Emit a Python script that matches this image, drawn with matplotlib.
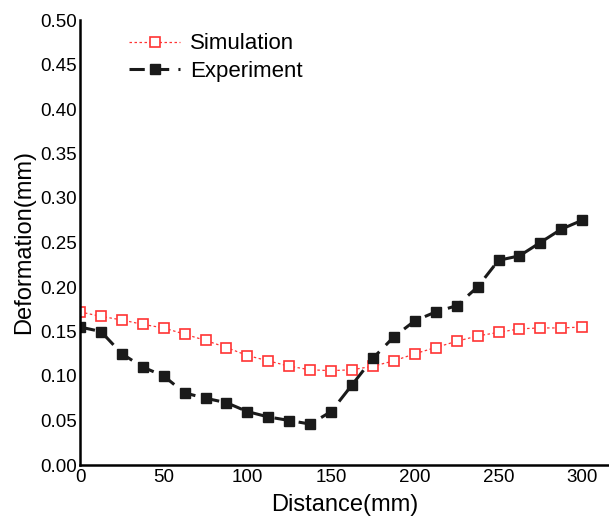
import numpy as np
import matplotlib.pyplot as plt

plt.rcParams['font.family'] = ['Liberation Sans', 'DejaVu Sans']

distance = np.arange(0, 300.1, 12.5)
simulation = [0.172, 0.167, 0.163, 0.158, 0.154, 0.147, 0.140, 0.132, 0.123,
              0.117, 0.111, 0.107, 0.106, 0.107, 0.111, 0.117, 0.125, 0.132,
              0.139, 0.145, 0.149, 0.153, 0.154, 0.154, 0.155]
experiment = [0.155, 0.150, 0.125, 0.110, 0.100, 0.081, 0.075, 0.070, 0.060,
              0.054, 0.050, 0.046, 0.060, 0.090, 0.120, 0.144, 0.162, 0.172,
              0.179, 0.200, 0.230, 0.235, 0.250, 0.265, 0.275]

fig = plt.figure(figsize=(6.09, 5.21), dpi=100)
ax = fig.add_axes([80 / 609, 56 / 521, 529 / 609, 445 / 521])

ax.plot(distance, simulation, color='#ff3333', linestyle=(0, (2, 2)), linewidth=0.9,
        marker='s', markersize=7.5, markerfacecolor='white',
        markeredgecolor='#ff3333', markeredgewidth=1.2, label='Simulation')
ax.plot(distance, experiment, color='#1a1a1a', linestyle=(0, (5, 3)), linewidth=2.2,
        marker='s', markersize=7.5, markerfacecolor='#1a1a1a',
        markeredgecolor='#1a1a1a', label='Experiment')

ax.set_xlim(0, 316)
ax.set_ylim(0, 0.5)
ax.set_xticks([0, 50, 100, 150, 200, 250, 300])
ax.set_yticks(np.arange(0, 0.51, 0.05))
ax.yaxis.set_major_formatter(plt.FormatStrFormatter('%.2f'))
ax.tick_params(length=0, labelsize=13.5, pad=2)
ax.tick_params(axis='x', pad=3)

for s in ['top', 'right']:
    ax.spines[s].set_visible(False)
for s in ['left', 'bottom']:
    ax.spines[s].set_linewidth(1.8)

ax.set_xlabel('Distance(mm)', fontsize=17, labelpad=6)
ax.set_ylabel('Deformation(mm)', fontsize=17, labelpad=4)

ax.legend(loc='upper left', bbox_to_anchor=(0.055, 1.015), frameon=False,
          fontsize=16, handlelength=2.3, handletextpad=0.45, labelspacing=0.3)

fig.savefig('out.png', dpi=100)
